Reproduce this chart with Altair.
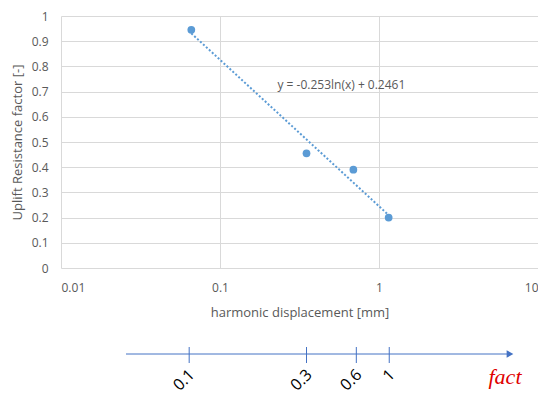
import altair as alt
import pandas as pd

# ---- data ----
disp = [0.066, 0.35, 0.69, 1.15]          # harmonic displacement [mm]
factor = [0.945, 0.455, 0.39, 0.2]        # uplift resistance factor [-]
x_ticks = [0.01, 0.1, 1, 10]
y_ticks = [0, 0.1, 0.2, 0.3, 0.4, 0.5, 0.6, 0.7, 0.8, 0.9, 1]
equation = ["y = -0.253ln(x) + 0.2461"]
eq_x = [0.58]
eq_y = [0.727]
fact_pos = [0.064, 0.35, 0.72, 1.16]      # positions of the 'fact' ticks on the lower arrow axis
fact_labels = ["0.1", "0.3", "0.6", "1"]
fact_title = ["fact"]

FONT = "Open Sans"
BLUE = "#5b9bd5"
ARROW = "#4472c4"
GREY = "#595959"

pts = pd.DataFrame({"x": disp, "y": factor})
eq_df = pd.DataFrame({"x": eq_x, "y": eq_y, "t": equation})
fact_df = pd.DataFrame({"x": fact_pos, "lab": fact_labels})
one = pd.DataFrame({"t": fact_title})

xs = alt.Scale(type="log", domain=[0.01, 10])
ys = alt.Scale(domain=[0, 1], nice=False)

xaxis = alt.Axis(values=x_ticks, format="~g", title="harmonic displacement [mm]",
                 labelPadding=14, titleY=44, titleBaseline="middle")
yaxis = alt.Axis(values=y_ticks, format="~g", title="Uplift Resistance factor [-]",
                 labelPadding=13, titleX=-44, titleBaseline="middle")

X = alt.X("x:Q", scale=xs, axis=xaxis)
Y = alt.Y("y:Q", scale=ys, axis=yaxis)

points = alt.Chart(pts).mark_circle(size=60, color=BLUE, opacity=1).encode(x=X, y=Y)

trend = alt.Chart(pts).transform_regression("x", "y", method="log").mark_line(
    color=BLUE, strokeDash=[2, 2], strokeWidth=2
).encode(x=X, y=Y)

eq_text = alt.Chart(eq_df).mark_text(font=FONT, fontSize=12, color=GREY).encode(
    x=X, y=Y, text="t:N"
)

arrow_line = alt.Chart(one).mark_rule(color=ARROW, strokeWidth=1).encode(
    x=alt.value(65), x2=alt.value(447), y=alt.value(338)
)
arrow_head = alt.Chart(one).mark_point(shape="triangle-right", filled=True, size=60,
                                        color=ARROW, opacity=1).encode(
    x=alt.value(449), y=alt.value(338)
)
fact_ticks = alt.Chart(fact_df).mark_rule(color=ARROW, strokeWidth=1).encode(
    x=X, y=alt.value(331), y2=alt.value(347)
)
fact_text = alt.Chart(fact_df).mark_text(font=FONT, fontSize=16, color="black", angle=315,
                                         align="right", baseline="middle", dx=4).encode(
    x=X, y=alt.value(359), text="lab:N"
)
fact_name = alt.Chart(one).mark_text(font="Liberation Serif", fontStyle="italic", fontSize=22,
                                     color="#e00000").encode(
    x=alt.value(444), y=alt.value(361), text="t:N"
)

chart = alt.layer(
    trend, points, eq_text, arrow_line, arrow_head, fact_ticks, fact_text, fact_name
).properties(
    width=477, height=252,
    autosize=alt.AutoSizeParams(type="none"),
    padding={"left": 53, "top": 8, "right": 0, "bottom": 127},
).configure_view(stroke=None).configure_axis(
    labelColor=GREY, titleColor=GREY, gridColor="#d9d9d9", domain=False, ticks=False,
    labelFont=FONT, labelFontSize=12, titleFont=FONT, titleFontSize=13,
    titleFontWeight="normal",
)

chart.save("out.html", embed_options={"renderer": "svg", "actions": False})
